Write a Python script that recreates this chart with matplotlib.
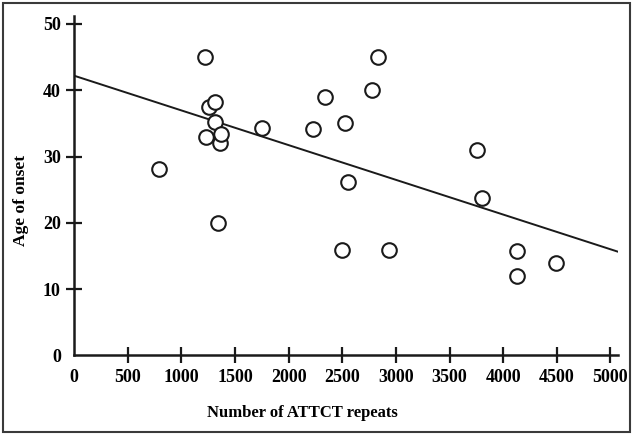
import matplotlib
matplotlib.use("Agg")
import matplotlib.pyplot as plt
from matplotlib.patches import Rectangle
import numpy as np

# number of ATTCT repeats vs age of onset
repeats = [795, 1220, 1230, 1255, 1310, 1315, 1345, 1360, 1370,
           1750, 2230, 2340, 2494, 2530, 2550, 2775, 2830, 2940,
           3760, 3800, 4125, 4125, 4490]
onset = [28.1, 45.0, 33.0, 37.4, 38.2, 35.2, 19.9, 32.1, 33.4,
         34.3, 34.1, 39.0, 15.9, 35.1, 26.2, 40.1, 45.0, 15.9,
         31.0, 23.8, 15.8, 12.0, 13.9]

fit_intercept = 42.2
fit_slope = -0.00524

xticks = [0, 500, 1000, 1500, 2000, 2500, 3000, 3500, 4000, 4500, 5000]
yticks = [0, 10, 20, 30, 40, 50]

plt.rcParams["font.family"] = ["Liberation Serif", "DejaVu Serif"]
plt.rcParams["font.weight"] = "bold"

fig = plt.figure(figsize=(6.33, 4.34), dpi=100)
ax = fig.add_axes([0.1169, 0.1813, 0.8594, 0.7818])

xmax, ymax = 5070, 51.2
ax.plot(repeats, onset, "o", ms=10.5, mfc="white", mec="#1a1a1a", mew=1.5, zorder=3, clip_on=False)
fx = np.array([0, xmax])
ax.plot(fx, fit_intercept + fit_slope * fx, "-", color="#1a1a1a", lw=1.4, zorder=2)

ax.set_xlim(0, xmax)
ax.set_ylim(0, ymax)
ax.set_xticks(xticks)
ax.set_yticks(yticks)
for s in ("top", "right"):
    ax.spines[s].set_visible(False)
for s in ("left", "bottom"):
    ax.spines[s].set_linewidth(1.8)
    ax.spines[s].set_color("#1a1a1a")
ax.tick_params(direction="inout", length=11, width=1.6, color="#1a1a1a", labelsize=13, pad=4)
ax.xaxis.get_major_ticks()[0].tick1line.set_visible(False)
ax.yaxis.get_major_ticks()[0].tick1line.set_visible(False)
for lab in ax.get_xticklabels() + ax.get_yticklabels():
    lab.set_fontweight("bold")

fig.text(302 / 633, 1 - 413 / 434, "Number of ATTCT repeats", ha="center", va="center",
         fontsize=12, fontweight="bold")
fig.text(21 / 633, 1 - 200 / 434, "Age of onset", ha="center", va="center", rotation=90,
         fontsize=12.5, fontweight="bold")

fig.patches.append(Rectangle((3 / 633, 2 / 434), 627 / 633, 429 / 434, transform=fig.transFigure,
                             fill=False, edgecolor="#3a3a3a", lw=1.5))

fig.savefig("out.png", dpi=100)
